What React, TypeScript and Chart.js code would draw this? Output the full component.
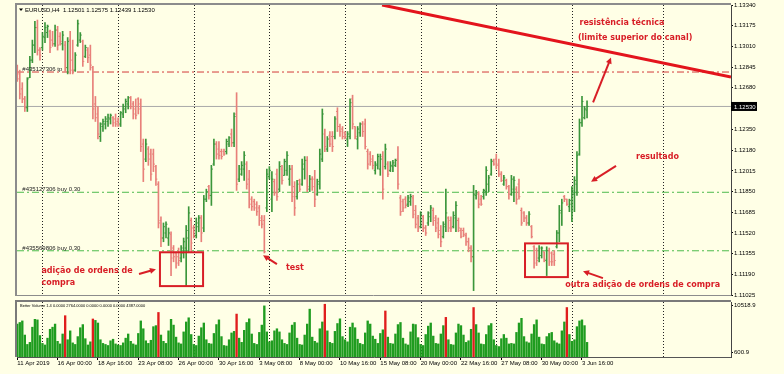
import React, { useEffect, useRef } from "react";
import { Chart, registerables } from "chart.js";

Chart.register(...registerables);

// ---------- DATA ----------
const highs = [
  1.1286, 1.1282, 1.1272, 1.1261, 1.1276, 1.1293, 1.1306, 1.1321, 1.1322, 1.13,
  1.1312, 1.132, 1.1318, 1.1314, 1.1313, 1.1318, 1.1317, 1.1312, 1.1313, 1.1305,
  1.1308, 1.1313, 1.1306, 1.1296, 1.1322, 1.1312, 1.1306, 1.1302, 1.13, 1.1302,
  1.1285, 1.1261, 1.1253, 1.124, 1.1243, 1.1245, 1.1247, 1.1247, 1.1245, 1.1247,
  1.1244, 1.1249, 1.1255, 1.1259, 1.1261, 1.1261, 1.1257, 1.1259, 1.126, 1.1259,
  1.1227, 1.1227, 1.1221, 1.1219, 1.1219, 1.1206, 1.1193, 1.1165, 1.116, 1.1161,
  1.1156, 1.1153, 1.1142, 1.1137, 1.114, 1.1142, 1.1148, 1.1158, 1.1173, 1.1164,
  1.1158, 1.1164, 1.1166, 1.1166, 1.1182, 1.1187, 1.119, 1.1206, 1.1227, 1.1225,
  1.1225, 1.1219, 1.1219, 1.1227, 1.1229, 1.1235, 1.1248, 1.1264, 1.1206, 1.1209,
  1.1217, 1.1209, 1.1202, 1.1181, 1.1179, 1.1177, 1.1174, 1.1166, 1.1166, 1.1203,
  1.1205, 1.1201, 1.1195, 1.1203, 1.1209, 1.1206, 1.1211, 1.1217, 1.1206, 1.1206,
  1.1193, 1.1194, 1.1195, 1.1211, 1.1213, 1.1213, 1.1198, 1.1197, 1.1202, 1.1195,
  1.1219, 1.1251, 1.1235, 1.1229, 1.1233, 1.1233, 1.1245, 1.1252, 1.1239, 1.1237,
  1.1233, 1.1233, 1.1259, 1.1262, 1.1237, 1.1237, 1.124, 1.1241, 1.1243, 1.1219,
  1.1217, 1.1214, 1.1209, 1.1215, 1.1215, 1.1217, 1.1223, 1.1209, 1.1209, 1.121,
  1.1211, 1.1221, 1.1182, 1.1179, 1.1181, 1.1182, 1.1183, 1.1182, 1.1174, 1.1166,
  1.1169, 1.1166, 1.1158, 1.1169, 1.1174, 1.1172, 1.1166, 1.1164, 1.1158, 1.1161,
  1.1187, 1.1165, 1.1165, 1.1169, 1.1177, 1.1164, 1.1156, 1.1156, 1.1152, 1.1148,
  1.1142, 1.119, 1.1186, 1.1185, 1.1182, 1.1187, 1.1205, 1.1198, 1.1211, 1.1211,
  1.1215, 1.1211, 1.1201, 1.1198, 1.1195, 1.119, 1.1198, 1.1197, 1.1189, 1.1195,
  1.1172, 1.1169, 1.1166, 1.1169, 1.1158, 1.1142, 1.114, 1.1142, 1.1141, 1.1137,
  1.1141, 1.114, 1.1137, 1.1138, 1.1154, 1.1174, 1.1179, 1.1182, 1.1179, 1.1179,
  1.1189, 1.1197, 1.1217, 1.1243, 1.1261, 1.1253, 1.12575,
];

const lows = [
  1.1273, 1.1259, 1.1256, 1.1249, 1.1249, 1.1276, 1.1288, 1.1296, 1.1294, 1.129,
  1.1298, 1.1304, 1.1308, 1.1296, 1.1301, 1.1301, 1.1298, 1.1302, 1.1298, 1.1281,
  1.1279, 1.1279, 1.1279, 1.1281, 1.1301, 1.1304, 1.1285, 1.1292, 1.1288, 1.1282,
  1.1243, 1.1241, 1.1227, 1.1225, 1.1233, 1.1235, 1.1237, 1.1239, 1.1237, 1.1237,
  1.1237, 1.1237, 1.1244, 1.1248, 1.1251, 1.1251, 1.1243, 1.1243, 1.1247, 1.1217,
  1.1193, 1.1209, 1.1206, 1.1194, 1.1201, 1.119, 1.1156, 1.1141, 1.1145, 1.1148,
  1.1142, 1.1118, 1.1129, 1.1124, 1.1126, 1.1129, 1.1132, 1.111, 1.1137, 1.1137,
  1.1148, 1.1148, 1.1153, 1.1145, 1.1153, 1.1177, 1.1179, 1.1174, 1.1206, 1.1211,
  1.1211, 1.1211, 1.1214, 1.1215, 1.1221, 1.1221, 1.1221, 1.1186, 1.1193, 1.1198,
  1.1194, 1.1187, 1.1172, 1.117, 1.117, 1.1166, 1.1158, 1.1156, 1.1136, 1.1169,
  1.1195, 1.1169, 1.1182, 1.1178, 1.1185, 1.1191, 1.1198, 1.1198, 1.119, 1.1177,
  1.1166, 1.1179, 1.1185, 1.119, 1.1195, 1.1185, 1.1185, 1.1186, 1.1173, 1.1182,
  1.1187, 1.1209, 1.1217, 1.1217, 1.1221, 1.1217, 1.1227, 1.1233, 1.1229, 1.1227,
  1.1227, 1.1221, 1.1227, 1.1235, 1.1227, 1.1219, 1.1229, 1.1229, 1.1219, 1.1203,
  1.1206, 1.1203, 1.1199, 1.1203, 1.1198, 1.1179, 1.1203, 1.1197, 1.1201, 1.1201,
  1.1205, 1.1187, 1.1166, 1.1169, 1.1172, 1.1173, 1.1174, 1.1164, 1.1156, 1.1153,
  1.1156, 1.1153, 1.115, 1.1158, 1.1161, 1.1158, 1.1153, 1.1148, 1.1141, 1.1148,
  1.1153, 1.1153, 1.1153, 1.1156, 1.1153, 1.1153, 1.1148, 1.1149, 1.1142, 1.1137,
  1.1129, 1.1106, 1.1179, 1.1172, 1.1174, 1.1179, 1.1182, 1.1185, 1.1198, 1.1206,
  1.1203, 1.1197, 1.1193, 1.119, 1.1187, 1.1179, 1.1182, 1.1177, 1.1175, 1.1179,
  1.1158, 1.1161, 1.1158, 1.1158, 1.1148, 1.1124, 1.1126, 1.1129, 1.1132, 1.1129,
  1.1118, 1.1126, 1.1126, 1.1126, 1.114, 1.1145, 1.1158, 1.1177, 1.1174, 1.1169,
  1.1161, 1.1169, 1.1182, 1.1214, 1.1237, 1.1243, 1.12439,
];

const opens = [
  1.1284, 1.1279, 1.1267, 1.1259, 1.1252, 1.1276, 1.129, 1.1302, 1.1316, 1.1298,
  1.13, 1.1308, 1.1312, 1.1313, 1.1306, 1.1303, 1.1314, 1.1309, 1.1303, 1.1302,
  1.1284, 1.1306, 1.129, 1.1282, 1.1302, 1.1306, 1.1305, 1.1293, 1.1298, 1.1294,
  1.1284, 1.1255, 1.1247, 1.1229, 1.1237, 1.1239, 1.1241, 1.1243, 1.1244, 1.1243,
  1.1241, 1.1239, 1.1247, 1.1251, 1.1255, 1.126, 1.1255, 1.1251, 1.1259, 1.1255,
  1.1223, 1.1211, 1.1219, 1.1215, 1.1215, 1.1205, 1.1191, 1.1162, 1.1148, 1.1152,
  1.1148, 1.1151, 1.114, 1.1136, 1.1133, 1.1132, 1.1136, 1.114, 1.1148, 1.1162,
  1.1156, 1.115, 1.1157, 1.1164, 1.1156, 1.1179, 1.1189, 1.1182, 1.1207, 1.1223,
  1.1219, 1.1217, 1.1217, 1.1217, 1.1223, 1.1231, 1.1224, 1.1247, 1.1195, 1.1199,
  1.1203, 1.1207, 1.1195, 1.1179, 1.1177, 1.1175, 1.1172, 1.1164, 1.1162, 1.1172,
  1.1197, 1.1179, 1.1193, 1.1199, 1.1187, 1.1203, 1.1198, 1.1202, 1.1195, 1.1203,
  1.1189, 1.1181, 1.1194, 1.1191, 1.1203, 1.121, 1.1187, 1.1195, 1.1195, 1.1183,
  1.1191, 1.1211, 1.1231, 1.1219, 1.123, 1.1229, 1.1229, 1.1249, 1.1237, 1.1235,
  1.1232, 1.1227, 1.1229, 1.1259, 1.1237, 1.1227, 1.1232, 1.1239, 1.1239, 1.1217,
  1.1215, 1.1211, 1.1202, 1.1206, 1.1203, 1.1213, 1.1205, 1.1207, 1.1202, 1.1205,
  1.1206, 1.1211, 1.118, 1.1177, 1.1179, 1.1175, 1.1177, 1.118, 1.117, 1.1164,
  1.1157, 1.1165, 1.1156, 1.116, 1.1165, 1.117, 1.1164, 1.116, 1.1154, 1.1149,
  1.1157, 1.1164, 1.1162, 1.1157, 1.1164, 1.1162, 1.1154, 1.1154, 1.115, 1.1145,
  1.114, 1.1133, 1.1182, 1.1183, 1.1179, 1.1181, 1.1185, 1.1191, 1.1199, 1.121,
  1.1211, 1.1207, 1.1199, 1.1191, 1.1194, 1.1189, 1.1183, 1.1187, 1.1187, 1.1191,
  1.117, 1.1168, 1.1164, 1.116, 1.1157, 1.1141, 1.1138, 1.1132, 1.1134, 1.1137,
  1.113, 1.1138, 1.1136, 1.1135, 1.1141, 1.1152, 1.1168, 1.1181, 1.1179, 1.1173,
  1.1175, 1.1183, 1.1191, 1.1215, 1.124, 1.1244, 1.12501,
];

const closes = [
  1.1275, 1.1263, 1.1259, 1.1252, 1.1275, 1.129, 1.1302, 1.1316, 1.1298, 1.1294,
  1.1309, 1.1316, 1.1317, 1.13, 1.1303, 1.1314, 1.1302, 1.1305, 1.131, 1.1284,
  1.1305, 1.1282, 1.1282, 1.1294, 1.1319, 1.131, 1.1289, 1.13, 1.1292, 1.1286,
  1.1251, 1.1244, 1.1231, 1.1239, 1.1241, 1.1243, 1.1244, 1.1246, 1.124, 1.1239,
  1.1238, 1.1248, 1.1253, 1.1257, 1.126, 1.1253, 1.1247, 1.1246, 1.1251, 1.1221,
  1.1203, 1.1223, 1.1211, 1.1199, 1.1207, 1.1195, 1.116, 1.1148, 1.1157, 1.1159,
  1.1152, 1.1132, 1.1133, 1.1128, 1.113, 1.114, 1.1145, 1.1154, 1.1168, 1.1144,
  1.115, 1.116, 1.1164, 1.1152, 1.1179, 1.1185, 1.1182, 1.1203, 1.1223, 1.1215,
  1.1214, 1.1213, 1.1215, 1.1225, 1.1228, 1.1224, 1.1245, 1.1191, 1.1203, 1.1206,
  1.1214, 1.1191, 1.1175, 1.1173, 1.1172, 1.1169, 1.1162, 1.1159, 1.1137, 1.1199,
  1.1202, 1.1195, 1.1184, 1.1181, 1.1205, 1.1194, 1.1209, 1.1214, 1.1203, 1.1181,
  1.1172, 1.1191, 1.1187, 1.1207, 1.121, 1.1189, 1.1195, 1.1189, 1.1179, 1.1193,
  1.1215, 1.1247, 1.1221, 1.1227, 1.1223, 1.1221, 1.1243, 1.1237, 1.1233, 1.1229,
  1.1229, 1.1231, 1.1256, 1.1239, 1.1229, 1.1235, 1.1239, 1.1233, 1.1221, 1.1207,
  1.1209, 1.1206, 1.1207, 1.1213, 1.1211, 1.1187, 1.1219, 1.1199, 1.1206, 1.1208,
  1.121, 1.1191, 1.1169, 1.1172, 1.1174, 1.118, 1.1181, 1.1167, 1.1159, 1.1156,
  1.1167, 1.1156, 1.1152, 1.1168, 1.1172, 1.1162, 1.1156, 1.1151, 1.1145, 1.1159,
  1.1168, 1.1156, 1.1156, 1.1166, 1.1174, 1.1156, 1.1149, 1.1151, 1.1145, 1.114,
  1.1133, 1.1183, 1.1184, 1.1175, 1.1175, 1.1186, 1.1202, 1.1196, 1.1209, 1.1207,
  1.1206, 1.1199, 1.1194, 1.1196, 1.1189, 1.1183, 1.1195, 1.1194, 1.1179, 1.1181,
  1.116, 1.1164, 1.116, 1.1167, 1.1149, 1.1128, 1.113, 1.114, 1.114, 1.1131,
  1.1138, 1.1129, 1.1129, 1.113, 1.1152, 1.117, 1.1176, 1.1179, 1.1175, 1.1178,
  1.1186, 1.1194, 1.1214, 1.124, 1.1257, 1.1251, 1.1253,
];

const volumes = [
  6300, 6600, 6900, 4200,
  2400, 2800, 5700, 7200, 7100, 4100,
  2600, 2300, 3600, 5300, 5700, 6300,
  3000, 2500, 4400, 7900, 3300, 5000,
  2700, 2400, 3900, 5600, 6200, 3500,
  2300, 2900, 7270, 7000, 6500, 3300,
  2600, 2400, 2200, 3100, 3400, 2500,
  2300, 2200, 2700, 3600, 4400, 3000,
  2500, 2300, 4500, 6900, 5400, 3100,
  2600, 3200, 5800, 6000, 8520, 4200,
  3000, 2600, 5000, 7200, 6100, 3800,
  2700, 2500, 4800, 6700, 7500, 4300,
  2400, 2200, 4000, 5600, 6500, 3300,
  2600, 2500, 4500, 6200, 7100, 3900,
  2200, 2100, 3300, 4600, 4900, 8210,
  3600, 2800, 5100, 6600, 7300, 4400,
  2600, 2400, 4700, 6100, 9776, 4800,
  2900, 3100, 5000, 5400, 4800, 3300,
  2600, 2400, 4600, 6100, 6600, 3600,
  2400, 2300, 4200, 6300, 9150, 3800,
  3000, 2700, 5400, 6700, 10090, 5000,
  2800, 2600, 4900, 6400, 7300, 3900,
  3300, 2900, 5700, 6500, 5600, 3400,
  2600, 2400, 4600, 6900, 6300, 4000,
  3400, 2600, 4500, 5200, 8800, 3800,
  2600, 2500, 4400, 6200, 6600, 3600,
  2500, 2300, 4800, 6300, 6200, 3700,
  2400, 2200, 4300, 5900, 6500, 4000,
  2600, 2500, 4400, 6000, 7580, 3300,
  2400, 2300, 4600, 6300, 6000, 4200,
  2800, 3100, 5300, 9460, 6200, 4600,
  2500, 2400, 4300, 6000, 6400, 3300,
  2200, 2000, 3500, 4300, 3600, 2500,
  2600, 2500, 4700, 6500, 7400, 3900,
  2900, 2700, 4400, 6200, 7100, 3800,
  2500, 2400, 3900, 4500, 4700, 3100,
  2700, 2500, 5000, 6700, 9460, 4300,
  3000, 3300, 5800, 6900, 7100, 6000,
  2800,
];

const climaxBars = [19, 30, 56, 87, 122, 146, 170, 181, 218];

const timeTickBars = [0, 16, 32, 48, 64, 80, 96, 112, 128, 144, 160, 176, 192, 208, 224];
const timeTickLabels = [
  "11 Apr 2019", "16 Apr 00:00", "18 Apr 16:00", "23 Apr 08:00", "26 Apr 00:00",
  "30 Apr 16:00", "3 May 08:00", "8 May 00:00", "10 May 16:00", "15 May 08:00",
  "20 May 00:00", "22 May 16:00", "27 May 08:00", "30 May 00:00", "3 Jun 16:00",
];

const priceTicks = [
  1.1334, 1.13175, 1.1301, 1.12845, 1.1268, 1.1235, 1.1218, 1.12015,
  1.1185, 1.11685, 1.1152, 1.11355, 1.1119, 1.11025,
];
const volTickValues = [9945, 956];
const volTickLabels = ["10518.9", "600.9"];

const weekGridBars = [10, 40, 70, 100, 130, 160, 190, 220, 256];

const currentPrice = 1.1253;
const orderPrices = [1.12805, 1.11845, 1.11378];
const orderLabels = ["#435127306 tp", "#435127306 buy 0.30", "#435569806 buy 0.30"];

const trendBars = [144.7, 283.1];
const trendPrices = [1.1334, 1.12765];

const boxBars = [[56.6, 73.7], [201.4, 218.4]];
const boxPrices = [[1.11366, 1.11096], [1.11437, 1.11168]];

const arrowBars = [[48.3, 55.0], [103.0, 97.5], [232.3, 224.4], [237.5, 227.6], [228.4, 235.5]];
const arrowPrices = [[1.11192, 1.11231], [1.11271, 1.11342], [1.1116, 1.11215], [1.12056, 1.11929], [1.12563, 1.1292]];

const noteTexts = [
  "resistência técnica", "(limite superior do canal)", "resultado", "test",
  "adição de ordens de", "compra", "outra adição de ordens de compra",
];
const noteBars = [223.0, 222.4, 245.4, 106.6, 9.6, 9.6, 217.4];
const notePrices = [1.13197, 1.13078, 1.12127, 1.11239, 1.11215, 1.1112, 1.11104];

const titleText = "EURUSD,H4  1.12501 1.12575 1.12439 1.12530";
const volumeTitle = "Better Volume 1.4 0.0000 2764.0000 0.0000 0.0000 0.0000 4387.0000";

// ---------- STYLE ----------
const X_MIN = -0.1;
const X_MAX = 283.1;
const BG = "#ffffe6";
const UP = "#3b963b";
const DOWN = "#e8807a";
const VOL_UP = "#1f9c1f";
const VOL_RED = "#e01d1d";
const NOTE = "#d81e26";
const SMALL_FONT = '6px "Liberation Sans", Arial, sans-serif';
const TINY_FONT = '4px "Liberation Sans", Arial, sans-serif';
const NOTE_FONT = 'bold 8px "DejaVu Sans", Verdana, sans-serif';

function drawArrow(ctx: CanvasRenderingContext2D, x0: number, y0: number, x1: number, y1: number) {
  const a = Math.atan2(y1 - y0, x1 - x0);
  const L = 6;
  const W = 3;
  ctx.beginPath();
  ctx.moveTo(x0, y0);
  ctx.lineTo(x1 - Math.cos(a) * 3, y1 - Math.sin(a) * 3);
  ctx.stroke();
  ctx.beginPath();
  ctx.moveTo(x1, y1);
  ctx.lineTo(x1 - L * Math.cos(a) + W * Math.sin(a), y1 - L * Math.sin(a) - W * Math.cos(a));
  ctx.lineTo(x1 - L * Math.cos(a) - W * Math.sin(a), y1 - L * Math.sin(a) + W * Math.cos(a));
  ctx.closePath();
  ctx.fill();
}

const weekGridPlugin = {
  id: "weekGrid",
  beforeDatasetsDraw(chart: any) {
    const { ctx, chartArea, scales } = chart;
    ctx.save();
    ctx.strokeStyle = "#222";
    ctx.lineWidth = 1;
    ctx.setLineDash([1, 2]);
    weekGridBars.forEach((v) => {
      const x = Math.round(scales.x.getPixelForValue(v)) + 0.5;
      ctx.beginPath();
      ctx.moveTo(x, chartArea.top);
      ctx.lineTo(x, chartArea.bottom);
      ctx.stroke();
    });
    ctx.restore();
  },
};

const priceOverlayPlugin = {
  id: "priceOverlay",
  afterDatasetsDraw(chart: any) {
    const { ctx, scales } = chart;
    const xs = scales.x;
    const ys = scales.y;
    ctx.save();
    ctx.font = SMALL_FONT;
    ctx.fillStyle = "#222";
    ctx.textBaseline = "bottom";
    ctx.textAlign = "left";
    orderLabels.forEach((t, k) => {
      ctx.fillText(t, xs.getPixelForValue(2), ys.getPixelForValue(orderPrices[k]) + 0.5);
    });
    ctx.strokeStyle = NOTE;
    ctx.lineWidth = 2;
    boxBars.forEach((b, k) => {
      const x0 = xs.getPixelForValue(b[0]);
      const x1 = xs.getPixelForValue(b[1]);
      const y0 = ys.getPixelForValue(boxPrices[k][0]);
      const y1 = ys.getPixelForValue(boxPrices[k][1]);
      ctx.strokeRect(x0, y0, x1 - x0, y1 - y0);
    });
    ctx.fillStyle = NOTE;
    ctx.lineWidth = 2;
    arrowBars.forEach((b, k) => {
      drawArrow(
        ctx,
        xs.getPixelForValue(b[0]),
        ys.getPixelForValue(arrowPrices[k][0]),
        xs.getPixelForValue(b[1]),
        ys.getPixelForValue(arrowPrices[k][1])
      );
    });
    ctx.font = NOTE_FONT;
    ctx.textBaseline = "middle";
    noteTexts.forEach((t, k) => {
      ctx.fillText(t, xs.getPixelForValue(noteBars[k]), ys.getPixelForValue(notePrices[k]));
    });
    ctx.restore();
  },
  afterDraw(chart: any) {
    const { ctx, chartArea, scales } = chart;
    ctx.save();
    ctx.strokeStyle = "#8c8c8c";
    ctx.lineWidth = 2;
    ctx.beginPath();
    ctx.moveTo(chartArea.left - 2, chartArea.top - 1);
    ctx.lineTo(chartArea.right, chartArea.top - 1);
    ctx.moveTo(chartArea.left - 1, chartArea.top - 1);
    ctx.lineTo(chartArea.left - 1, chartArea.bottom + 1);
    ctx.stroke();
    ctx.lineWidth = 1;
    ctx.beginPath();
    ctx.moveTo(chartArea.left - 1, chartArea.bottom + 0.5);
    ctx.lineTo(chartArea.right, chartArea.bottom + 0.5);
    ctx.stroke();
    ctx.fillStyle = "#000";
    ctx.beginPath();
    ctx.moveTo(chartArea.left + 2, chartArea.top + 3.5);
    ctx.lineTo(chartArea.left + 6, chartArea.top + 3.5);
    ctx.lineTo(chartArea.left + 4, chartArea.top + 6);
    ctx.closePath();
    ctx.fill();
    ctx.font = SMALL_FONT;
    ctx.textBaseline = "middle";
    ctx.textAlign = "left";
    ctx.fillText(titleText, chartArea.left + 8, chartArea.top + 5);
    const y = scales.y.getPixelForValue(currentPrice);
    ctx.fillStyle = "#000";
    ctx.fillRect(chartArea.right, y - 4.5, 26, 9);
    ctx.fillStyle = "#fff";
    ctx.fillText(currentPrice.toFixed(5), chartArea.right + 3, y + 0.5);
    ctx.restore();
  },
};

const volumeOverlayPlugin = {
  id: "volOverlay",
  afterDraw(chart: any) {
    const { ctx, chartArea } = chart;
    ctx.save();
    ctx.strokeStyle = "#7a7a7a";
    ctx.lineWidth = 2;
    ctx.beginPath();
    ctx.moveTo(chartArea.left - 2, chartArea.top - 1);
    ctx.lineTo(chartArea.right, chartArea.top - 1);
    ctx.moveTo(chartArea.left - 1, chartArea.top - 1);
    ctx.lineTo(chartArea.left - 1, chartArea.bottom);
    ctx.stroke();
    ctx.fillStyle = "#000";
    ctx.font = TINY_FONT;
    ctx.textBaseline = "middle";
    ctx.textAlign = "left";
    ctx.fillText(volumeTitle, chartArea.left + 3, chartArea.top + 4);
    ctx.restore();
  },
};

export default function App() {
  const priceRef = useRef<HTMLCanvasElement>(null);
  const volRef = useRef<HTMLCanvasElement>(null);

  useEffect(() => {
    const barColors = opens.map((o, i) => (closes[i] >= o ? UP : DOWN));
    const volColors = volumes.map((_, i) => (climaxBars.includes(i) ? VOL_RED : VOL_UP));

    const hline = (p: number, color: string, dash: number[], width = 1) => ({
      type: "line" as const,
      data: [
        { x: X_MIN, y: p },
        { x: X_MAX, y: p },
      ],
      borderColor: color,
      borderWidth: width,
      borderDash: dash,
      pointRadius: 0,
      order: 10,
    });

    const tickDataset = (vals: number[], shift: number) =>
      ({
        type: "scatter",
        data: vals.map((v, i) => ({ x: i + shift, y: v })),
        pointStyle: "line",
        pointRadius: 0.7,
        pointBorderWidth: 1,
        pointBorderColor: barColors,
        pointBackgroundColor: barColors,
        order: 2,
      } as any);

    const priceChart = new Chart(priceRef.current as HTMLCanvasElement, {
      type: "bar",
      data: {
        datasets: [
          hline(orderPrices[0], "#d23a3a", [7, 3, 2, 3]),
          hline(currentPrice, "#a9a9a9", []),
          hline(orderPrices[1], "#4dbb4d", [7, 3, 2, 3]),
          hline(orderPrices[2], "#4dbb4d", [7, 3, 2, 3]),
          {
            type: "bar",
            data: highs.map((h, i) => ({ x: i, y: [lows[i], h] })),
            backgroundColor: barColors,
            barThickness: 1,
            grouped: false,
            order: 3,
          } as any,
          tickDataset(opens, -0.3),
          tickDataset(closes, 0.3),
          {
            type: "line",
            data: trendBars.map((b, k) => ({ x: b, y: trendPrices[k] })),
            borderColor: "#e3141c",
            borderWidth: 3,
            pointRadius: 0,
            order: 0,
          } as any,
        ],
      },
      options: {
        animation: false,
        responsive: false,
        devicePixelRatio: 1,
        events: [],
        layout: { padding: { left: 17, top: 5, right: 0, bottom: 3 } },
        plugins: { legend: { display: false }, tooltip: { enabled: false } },
        scales: {
          x: {
            type: "linear",
            min: X_MIN,
            max: X_MAX,
            display: false,
            offset: false,
            grid: { offset: false },
          },
          y: {
            type: "linear",
            position: "right",
            min: 1.11025,
            max: 1.1334,
            beginAtZero: false,
            afterBuildTicks: (s: any) => {
              s.ticks = priceTicks.map((v) => ({ value: v }));
            },
            afterFit: (s: any) => {
              s.width = 53;
              s.paddingTop = 0;
              s.paddingBottom = 0;
            },
            ticks: {
              autoSkip: false,
              padding: 1,
              color: "#000",
              font: { family: '"Liberation Sans", Arial, sans-serif', size: 6 },
              callback: (v: any) => Number(v).toFixed(5),
            },
            grid: { drawOnChartArea: false, drawTicks: true, tickLength: 2, color: "#000" },
            border: { display: true, color: "#444", width: 1 },
          },
        },
      } as any,
      plugins: [weekGridPlugin, priceOverlayPlugin],
    });

    const volChart = new Chart(volRef.current as HTMLCanvasElement, {
      type: "bar",
      data: {
        datasets: [
          {
            data: volumes.map((v, i) => ({ x: i, y: v })),
            backgroundColor: volColors,
            barThickness: 1.7,
            grouped: false,
          } as any,
        ],
      },
      options: {
        animation: false,
        responsive: false,
        devicePixelRatio: 1,
        events: [],
        layout: { padding: { left: 17, top: 2, right: 0, bottom: 0 } },
        plugins: { legend: { display: false }, tooltip: { enabled: false } },
        scales: {
          x: {
            type: "linear",
            min: X_MIN,
            max: X_MAX,
            position: "bottom",
            offset: false,
            afterBuildTicks: (s: any) => {
              s.ticks = timeTickBars.map((v) => ({ value: v }));
            },
            afterFit: (s: any) => {
              s.height = 17;
              s.paddingLeft = 0;
              s.paddingRight = 0;
            },
            ticks: {
              autoSkip: false,
              maxRotation: 0,
              minRotation: 0,
              align: "start",
              padding: 0,
              color: "#000",
              font: { family: '"Liberation Sans", Arial, sans-serif', size: 6 },
              callback: (_v: any, i: number) => timeTickLabels[i],
            },
            grid: { drawOnChartArea: false, drawTicks: true, tickLength: 3, color: "#000", offset: false },
            border: { display: true, color: "#555", width: 1 },
          },
          y: {
            type: "linear",
            position: "right",
            min: 0,
            max: 10519,
            afterBuildTicks: (s: any) => {
              s.ticks = volTickValues.map((v) => ({ value: v }));
            },
            afterFit: (s: any) => {
              s.width = 53;
              s.paddingTop = 0;
              s.paddingBottom = 0;
            },
            ticks: {
              autoSkip: false,
              padding: 1,
              color: "#000",
              font: { family: '"Liberation Sans", Arial, sans-serif', size: 6 },
              callback: (_v: any, i: number) => volTickLabels[i],
            },
            grid: { drawOnChartArea: false, drawTicks: true, tickLength: 2, color: "#000" },
            border: { display: true, color: "#444", width: 1 },
          },
        },
      } as any,
      plugins: [weekGridPlugin, volumeOverlayPlugin],
    });

    return () => {
      priceChart.destroy();
      volChart.destroy();
    };
  }, []);

  return (
    <div
      style={{
        position: "fixed",
        left: 0,
        top: 0,
        width: 784,
        height: 374,
        background: BG,
        overflow: "hidden",
      }}
    >
      <canvas
        ref={priceRef}
        width={784}
        height={300}
        style={{ position: "absolute", left: 0, top: 0, width: 784, height: 300 }}
      />
      <canvas
        ref={volRef}
        width={784}
        height={74}
        style={{ position: "absolute", left: 0, top: 300, width: 784, height: 74 }}
      />
    </div>
  );
}
